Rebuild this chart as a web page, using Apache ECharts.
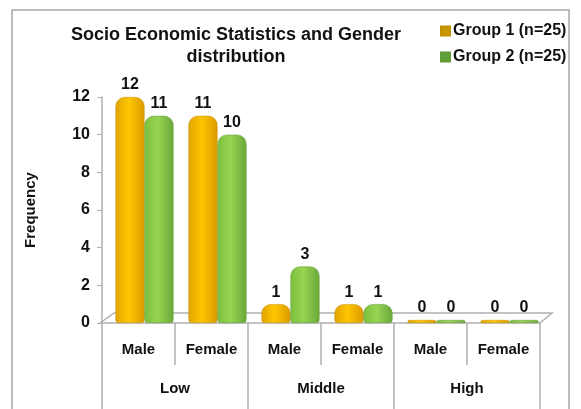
<!DOCTYPE html>
<html><head><meta charset="utf-8">
<script src="https://cdn.jsdelivr.net/npm/echarts@6/dist/echarts.min.js"></script>
<style>html,body{margin:0;padding:0;background:#fff}#c{width:581px;height:409px}</style>
</head><body><div id="c"></div>
<script>
const subCategories = ['Male','Female','Male','Female','Male','Female'];
const groups = ['Low','Middle','High'];
const group1 = [12, 11, 1, 1, 0, 0];
const group2 = [11, 10, 3, 1, 0, 0];
const seriesNames = ['Group 1 (n=25)','Group 2 (n=25)'];
const yTicks = {min:0, max:12, interval:2};

const font = '"Liberation Sans", Arial, sans-serif';
const chart = echarts.init(document.getElementById('c'), null, {renderer:'canvas'});
function grad(a,b,c){return new echarts.graphic.LinearGradient(0,0,1,0,[{offset:0,color:a},{offset:0.45,color:b},{offset:1,color:c}]);}
const lbl = {show:true, position:'top', distance:4, color:'#111', fontWeight:'bold', fontSize:16, fontFamily:font};
const axisGray = '#b0b0b0';
chart.setOption({
  animation:false,
  textStyle:{fontFamily:font},
  title:{text:'Socio Economic Statistics and Gender\ndistribution', left:231, top:19, textAlign:'center',
    textStyle:{fontSize:18, fontWeight:'bold', color:'#111', lineHeight:22, fontFamily:font}},
  legend:{orient:'vertical', left:435, top:18, itemWidth:9, itemHeight:9, itemGap:10, icon:'rect',
    data:[{name:seriesNames[0], itemStyle:{color:'#c99a00'}},{name:seriesNames[1], itemStyle:{color:'#5fa03a'}}],
    textStyle:{fontSize:16, fontWeight:'bold', color:'#111', fontFamily:font, padding:[0,0,0,-2]}},
  grid:[{left:102, right:41, top:97, bottom:86},{left:108, right:35, top:97, bottom:86}],
  xAxis:[
    {type:'category', gridIndex:0, data:subCategories, position:'bottom',
     axisLine:{lineStyle:{color:axisGray, width:1.5}},
     axisTick:{show:true, length:42, lineStyle:{color:axisGray, width:1.5}},
     axisLabel:{margin:19, color:'#111', fontWeight:'bold', fontSize:15, fontFamily:font}},
    {type:'category', gridIndex:0, data:groups, position:'bottom', offset:0,
     axisLine:{show:false},
     axisTick:{show:true, length:90, lineStyle:{color:axisGray, width:1.5}},
     axisLabel:{margin:58, color:'#111', fontWeight:'bold', fontSize:15, fontFamily:font}},
    {type:'category', gridIndex:1, data:subCategories, show:false}
  ],
  yAxis:[{type:'value', gridIndex:0, min:yTicks.min, max:yTicks.max, interval:yTicks.interval,
    name:'Frequency', nameLocation:'middle', nameGap:64, nameRotate:90,
    nameTextStyle:{fontWeight:'bold', fontSize:15, color:'#111', fontFamily:font},
    axisLine:{show:true, lineStyle:{color:axisGray, width:1.5}},
    axisTick:{show:true, length:5, lineStyle:{color:axisGray}},
    splitLine:{show:false},
    axisLabel:{margin:12, color:'#111', fontWeight:'bold', fontSize:16, fontFamily:font}},
    {type:'value', gridIndex:1, min:yTicks.min, max:yTicks.max, interval:yTicks.interval, show:false, splitLine:{show:false}}],
  series:[
    {name:seriesNames[0], type:'bar', data:group1, xAxisIndex:2, yAxisIndex:1, barWidth:29, barGap:'0%', barMinHeight:3,
     itemStyle:{color:grad('#e0a400','#ffc600','#d99a00'), borderRadius:[9,9,3,3], borderColor:'#c58f00', borderWidth:0.5},
     label:lbl, z:3},
    {name:seriesNames[1], type:'bar', data:group2, xAxisIndex:2, yAxisIndex:1, barWidth:29, barGap:'0%', barMinHeight:3,
     itemStyle:{color:grad('#7cbf3e','#96d452','#6aa83a'), borderRadius:[9,9,3,3], borderColor:'#5f9a33', borderWidth:0.5},
     label:lbl, z:3}
  ]
});
// decorative frame and 3D floor outline derived from the axis scale
const gr = chart.getModel().getComponent('grid', 0).coordinateSystem.getRect();
const fy = gr.y + gr.height, fx0 = gr.x, fx1 = gr.x + gr.width, d = 12;
chart.setOption({graphic:[
  {type:'rect', shape:{x:12,y:10,width:557,height:410}, style:{fill:'none', stroke:'#a6a6a6', lineWidth:1.5}, silent:true},
  {type:'polyline', z:1, shape:{points:[[fx0-2,fy],[fx0+d,fy-d+2],[fx1+d,fy-d+2],[fx1,fy]]}, style:{fill:'none', stroke:axisGray, lineWidth:1.5}, silent:true}
]});
</script></body></html>
